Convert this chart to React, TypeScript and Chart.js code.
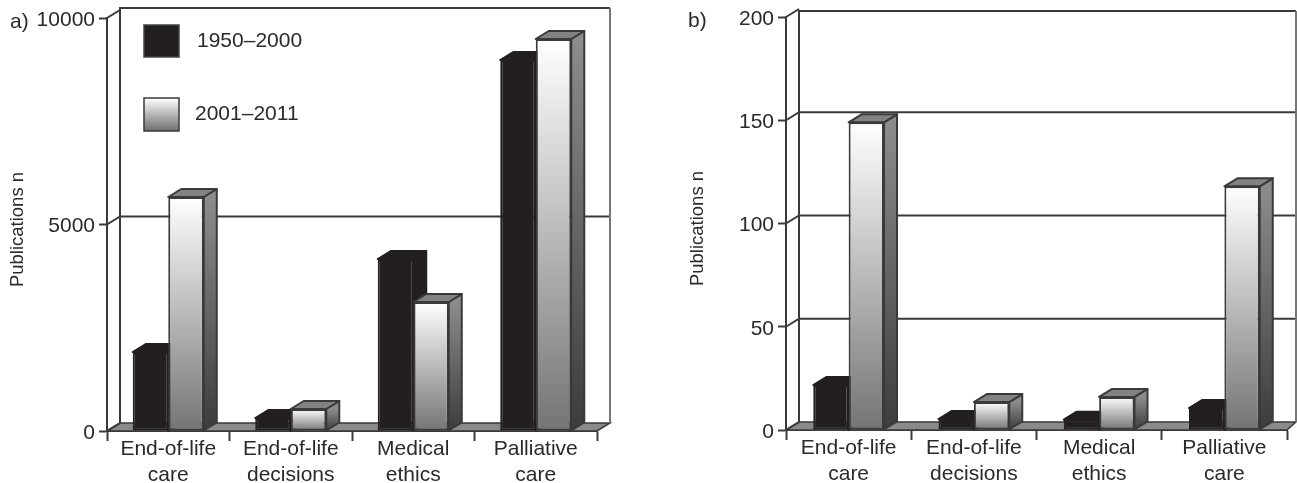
import React, { useEffect, useRef } from "react";
import { Chart, registerables } from "chart.js";

Chart.register(...registerables);

const categories = [["End-of-life", "care"], ["End-of-life", "decisions"], ["Medical", "ethics"], ["Palliative", "care"]];
const seriesNames = ["1950–2000", "2001–2011"];
const panelAEarly = [1913, 315, 4165, 8983];
const panelALate = [5666, 533, 3123, 9492];
const panelBEarly = [21.8, 5.3, 5, 10.6];
const panelBLate = [149, 13.5, 16, 118];

const FONT = "'Liberation Sans', Arial, sans-serif";
const FONT_SIZE = 21;
const TEXT = "#2a2a2a";
const LINE = "#3a3a3a";
const DARK = "#231f20";
const DX = 13;
const DY = 8;

type PanelOpts = {
  tag: string; tagX: number; tagY: number; axisLeft: number; titlePad: number; groupShare: number;
  rightPad: number; wallRight: number; top: number; bottom: number; wallTop: number;
  max: number; step: number; early: number[]; late: number[]; legend: boolean;
};

function drawDepth(c: any, meta: any, late: boolean) {
  c.save();
  c.lineJoin = "round";
  for (const el of meta.data) {
    const l = el.x - el.width / 2;
    const r = el.x + el.width / 2;
    const t = el.y;
    const b = el.base;
    // side face
    c.beginPath();
    c.moveTo(r, t);
    c.lineTo(r + DX, t - DY);
    c.lineTo(r + DX, b - DY);
    c.lineTo(r, b);
    c.closePath();
    if (late) {
      const g = c.createLinearGradient(0, t, 0, b);
      g.addColorStop(0, "#8c8c8c");
      g.addColorStop(1, "#3c3c3c");
      c.fillStyle = g;
    } else c.fillStyle = DARK;
    c.fill();
    c.strokeStyle = late ? LINE : DARK;
    c.lineWidth = 2;
    c.stroke();
    // top face
    c.beginPath();
    c.moveTo(l, t);
    c.lineTo(l + DX, t - DY);
    c.lineTo(r + DX, t - DY);
    c.lineTo(r, t);
    c.closePath();
    c.fillStyle = late ? "#828282" : DARK;
    c.fill();
    c.stroke();
  }
  c.restore();
}

function shadePlugin(o: PanelOpts) {
  return {
    id: "solid3d",
    beforeDatasetsDraw(chart: any) {
      const c = chart.ctx;
      const a = chart.chartArea;
      const y = chart.scales.y;
      const x0 = a.left + DX;
      const baseBack = a.bottom - DY;
      c.save();
      c.lineCap = "butt";
      // floor
      c.beginPath();
      c.moveTo(a.left, a.bottom);
      c.lineTo(x0, baseBack);
      c.lineTo(o.wallRight, baseBack);
      c.lineTo(a.right, a.bottom);
      c.closePath();
      c.fillStyle = "#8a8a8a";
      c.fill();
      c.strokeStyle = LINE;
      c.lineWidth = 1.5;
      c.stroke();
      // back grid lines and connectors on the side wall
      c.lineWidth = 2;
      for (const t of y.ticks) {
        const py = y.getPixelForValue(t.value);
        c.strokeStyle = LINE;
        c.beginPath();
        c.moveTo(a.left, py);
        c.lineTo(x0, py - DY);
        if (t.value !== 0 && t.value !== o.max) c.lineTo(o.wallRight, py - DY);
        c.stroke();
      }
      // back wall
      c.beginPath();
      c.moveTo(x0, baseBack);
      c.lineTo(x0, o.wallTop);
      c.lineTo(o.wallRight, o.wallTop);
      c.strokeStyle = LINE;
      c.stroke();
      c.beginPath();
      c.moveTo(o.wallRight, o.wallTop);
      c.lineTo(o.wallRight, baseBack);
      c.strokeStyle = "#777";
      c.stroke();
      c.restore();
    },
    beforeDatasetDraw(chart: any, args: any) {
      // dataset 1 is painted first by Chart.js, so both sets of depth faces go in here
      if (args.index !== 1) return;
      drawDepth(chart.ctx, chart.getDatasetMeta(0), false);
      drawDepth(chart.ctx, args.meta, true);
    },
    afterDraw(chart: any) {
      const c = chart.ctx;
      c.save();
      c.fillStyle = TEXT;
      c.font = `${FONT_SIZE}px ${FONT}`;
      c.textBaseline = "middle";
      c.textAlign = "left";
      c.fillText(o.tag, o.tagX, o.tagY);
      if (o.legend) {
        const boxes = [[144, 25, 35, 32], [144, 98, 35, 33]];
        boxes.forEach(([bx, by, bw, bh], i) => {
          if (i === 0) c.fillStyle = DARK;
          else {
            const g = c.createLinearGradient(0, by, 0, by + bh);
            g.addColorStop(0, "#ffffff");
            g.addColorStop(1, "#6e6e6e");
            c.fillStyle = g;
          }
          c.fillRect(bx, by, bw, bh);
          c.strokeStyle = i === 0 ? "#444" : LINE;
          c.lineWidth = 1.5;
          c.strokeRect(bx, by, bw, bh);
          c.fillStyle = TEXT;
          c.fillText(seriesNames[i], 197 - i * 2, by + bh / 2);
        });
      }
      c.restore();
    },
  };
}

function shifted(s: any, name: string, dy: number) {
  const orig = s[name];
  s[name] = function (...args: any[]) {
    this.ctx.save();
    this.ctx.translate(0, dy);
    orig.apply(this, args);
    this.ctx.restore();
  };
}

function buildChart(canvas: HTMLCanvasElement, o: PanelOpts) {
  return new Chart(canvas, {
    type: "bar",
    data: {
      labels: categories as any,
      datasets: [
        {
          label: seriesNames[0], data: o.early, backgroundColor: DARK,
          borderColor: DARK, borderWidth: 2, borderSkipped: false,
        },
        {
          label: seriesNames[1], data: o.late,
          backgroundColor: (ctx: any) => {
            const s = ctx.chart.scales.y;
            if (!s || ctx.raw === undefined) return "#ffffff";
            const y0 = s.getPixelForValue(ctx.raw);
            const y1 = s.getPixelForValue(0);
            if (!Number.isFinite(y0) || !Number.isFinite(y1)) return "#ffffff";
            const g = ctx.chart.ctx.createLinearGradient(0, y0, 0, y1);
            g.addColorStop(0, "#ffffff");
            g.addColorStop(1, "#747474");
            return g;
          },
          borderColor: LINE, borderWidth: 2, borderSkipped: false,
        },
      ],
    },
    options: {
      responsive: false,
      animation: false,
      categoryPercentage: o.groupShare,
      barPercentage: 1,
      layout: { padding: { top: o.top, right: o.rightPad, bottom: 0, left: 0 } },
      plugins: { legend: { display: false }, tooltip: { enabled: false } },
      scales: {
        x: {
          offset: true,
          afterFit: (s: any) => { s.height = 483 - o.bottom; },
          grid: { drawOnChartArea: false, tickLength: 10, tickColor: LINE, tickWidth: 2, offset: true },
          border: { color: LINE, width: 2 },
          ticks: {
            autoSkip: false, maxRotation: 0, minRotation: 0, padding: -5, color: TEXT,
            font: { family: FONT, size: FONT_SIZE, lineHeight: 1.25 },
          },
        },
        y: {
          min: 0, max: o.max,
          afterFit: (s: any) => {
            s.width = o.axisLeft;
            if (!s.__shifted) {
              s.__shifted = true;
              shifted(s, "drawTitle", 5);
              shifted(s, "drawLabels", 2);
            }
          },
          grid: { drawOnChartArea: false, tickLength: 8, tickColor: LINE, tickWidth: 2 },
          border: { color: LINE, width: 2 },
          title: {
            display: true, text: "Publications n", color: TEXT, padding: { top: o.titlePad, bottom: 0 },
            font: { family: FONT, size: 18.5 },
          },
          ticks: {
            stepSize: o.step, padding: 4, color: TEXT,
            font: { family: FONT, size: FONT_SIZE },
            callback: (v: any) => String(v),
          },
        },
      },
    },
    plugins: [shadePlugin(o) as any],
  } as any);
}

export default function App() {
  const a = useRef<HTMLCanvasElement>(null);
  const b = useRef<HTMLCanvasElement>(null);
  useEffect(() => {
    const ca = buildChart(a.current!, {
      tag: "a)", tagX: 10, tagY: 22, axisLeft: 107, titlePad: 7, groupShare: 0.58, rightPad: 51, wallRight: 610,
      top: 18, bottom: 431, wallTop: 8, max: 10000, step: 5000,
      early: panelAEarly, late: panelALate, legend: true,
    });
    const cb = buildChart(b.current!, {
      tag: "b)", tagX: 40, tagY: 21, axisLeft: 138, titlePad: 39, groupShare: 0.565, rightPad: 10, wallRight: 648,
      top: 17, bottom: 430, wallTop: 11, max: 200, step: 50,
      early: panelBEarly, late: panelBLate, legend: false,
    });
    return () => { ca.destroy(); cb.destroy(); };
  }, []);
  return (
    <div style={{ position: "absolute", left: 0, top: 0, width: 1297, height: 483, background: "#fff", overflow: "hidden" }}>
      <canvas ref={a} width={648} height={483} style={{ position: "absolute", left: 0, top: 0 }} />
      <canvas ref={b} width={649} height={483} style={{ position: "absolute", left: 648, top: 0 }} />
    </div>
  );
}
